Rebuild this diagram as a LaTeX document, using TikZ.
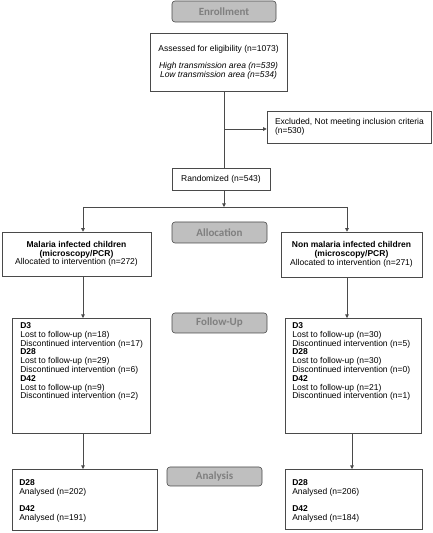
\documentclass[tikz,border=0pt]{standalone}
\usepackage{fontspec}
\setmainfont{Liberation Sans}
\newfontfamily\labfont{Carlito}
\usetikzlibrary{arrows.meta}
\definecolor{linec}{HTML}{4A4A4A}
\definecolor{labfill}{HTML}{BFBFBF}
\definecolor{labtext}{HTML}{7F7F7F}
\tikzset{
  x=1pt, y=1pt,
  cbox/.style={draw=linec, line width=0.6pt, inner sep=0pt, align=center,
    font=\fontsize{8.5}{8.8}\selectfont},
  tbox/.style={draw=linec, line width=0.6pt, inner sep=0pt, anchor=north west,
    font=\fontsize{8.5}{8.8}\selectfont},
  stage/.style={draw=linec, line width=0.6pt, fill=labfill, rounded corners=3pt,
    text=labtext, inner sep=0pt, font=\labfont\bfseries\fontsize{11}{13}\selectfont},
  conn/.style={draw=linec, line width=0.6pt},
  arr/.style={conn, -{Triangle[length=3.5pt,width=3.5pt]}}
}
\begin{document}
\begin{tikzpicture}
\useasboundingbox (0,0) rectangle (432,533);
% stage labels
\node[stage, minimum width=104pt, minimum height=21pt] (enroll) at (224,521.5) {Enrollment};
\node[stage, minimum width=95pt, minimum height=21pt] (alloc) at (219.5,300.5) {Allocation};
\node[stage, minimum width=95pt, minimum height=20pt] (follow) at (219.5,210) {Follow-Up};
\node[stage, minimum width=95pt, minimum height=19pt] (anal) at (214.5,56.5) {Analysis};
% boxes
\node[cbox, minimum width=137pt, minimum height=58pt] (assess) at (218.5,471)
  {Assessed for eligibility (n=1073)\\[8.6pt]\textit{High transmission area (n=539)}\\\textit{Low transmission area (n=534)}};
\node[cbox, minimum width=164pt, minimum height=32pt] (excl) at (349,406)
  {\parbox{164pt}{\raggedright\leftskip=8pt Excluded, Not meeting inclusion criteria\\(n=530)}};
\node[cbox, minimum width=98pt, minimum height=22pt] (rand) at (221,354) {Randomized (n=543)};
\node[cbox, minimum width=149pt, minimum height=44pt] (mal) at (76.5,279)
  {\textbf{Malaria infected children}\\\textbf{(microscopy/PCR)}\\Allocated to intervention (n=272)};
\node[cbox, minimum width=141pt, minimum height=45pt] (nonmal) at (351.5,278.5)
  {\textbf{Non malaria infected children}\\\textbf{(microscopy/PCR)}\\Allocated to intervention (n=271)};
\node[tbox] (malfu) at (12,215)
  {\parbox[t][115pt][t]{138pt}{\raggedright\leftskip=8pt\vspace*{4.2pt}\textbf{D3}\\Lost to follow-up (n=18)\\Discontinued intervention (n=17)\\\textbf{D28}\\Lost to follow-up (n=29)\\Discontinued intervention (n=6)\\\textbf{D42}\\Lost to follow-up (n=9)\\Discontinued intervention (n=2)}};
\node[tbox] (nonfu) at (285,215)
  {\parbox[t][115pt][t]{136pt}{\raggedright\leftskip=7pt\vspace*{4.2pt}\textbf{D3}\\Lost to follow-up (n=30)\\Discontinued intervention (n=5)\\\textbf{D28}\\Lost to follow-up (n=30)\\Discontinued intervention (n=0)\\\textbf{D42}\\Lost to follow-up (n=21)\\Discontinued intervention (n=1)}};
\node[tbox] (malan) at (12,64)
  {\parbox[t][61pt][t]{145pt}{\raggedright\leftskip=7pt\vspace*{10pt}\textbf{D28}\\Analysed (n=202)\\[8.6pt]\textbf{D42}\\Analysed (n=191)}};
\node[tbox] (nonan) at (285,64)
  {\parbox[t][60pt][t]{137pt}{\raggedright\leftskip=7pt\vspace*{10pt}\textbf{D28}\\Analysed (n=206)\\[8.6pt]\textbf{D42}\\Analysed (n=184)}};
% connectors
\coordinate (tx) at (224,404);
\coordinate (split) at (224,326);
\coordinate (sl) at (83,326);
\coordinate (sr) at (347,326);
\coordinate (sr2) at (352,326);
\draw[conn] (assess.south -| tx) -- (rand.north -| tx);
\draw[arr] (tx) -- (tx -| excl.west);
\draw[arr] (rand.south -| split) -- (split);
\draw[conn] (sl) -- (sr);
\draw[arr] (sl) -- (sl |- mal.north);
\draw[arr] (sr) -- (sr |- nonmal.north);
\draw[arr] (mal.south -| sl) -- (malfu.north -| sl);
\draw[arr] (nonmal.south -| sr) -- (nonfu.north -| sr);
\draw[arr] (malfu.south -| sl) -- (malan.north -| sl);
\draw[arr] (nonfu.south -| sr2) -- (nonan.north -| sr2);
\end{tikzpicture}
\end{document}
